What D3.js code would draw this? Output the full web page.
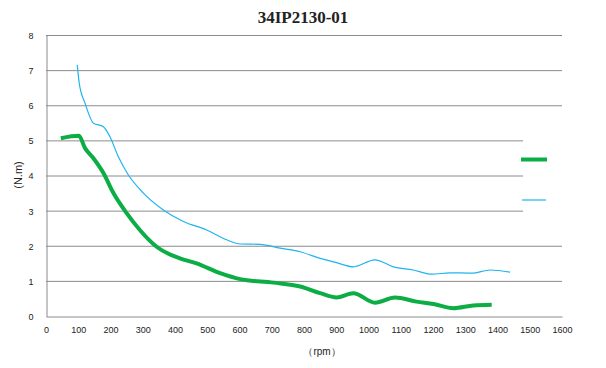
<!DOCTYPE html>
<html lang="en">
<head>
<meta charset="utf-8">
<title>34IP2130-01</title>
<style>
  body { margin: 0; background: #fff; }
  text { font-family: "Liberation Sans", Arial, sans-serif; fill: #222; }
  .title { font-family: "Liberation Serif", "DejaVu Serif", serif; font-size: 17px; font-weight: bold; }
  .tick text { font-size: 9px; }
  .grid line { stroke: #8c8c8c; }
</style>
</head>
<body>
<script src="https://cdn.jsdelivr.net/npm/d3@7"></script>
<script>
// torque curves (rpm, N.m)
var greenRpm = [46, 102, 121, 147, 178, 209, 250, 291, 343, 415, 467, 540, 602, 705, 788, 850, 901, 953, 1020, 1082, 1149, 1202, 1263, 1325, 1382];
var greenTorque = [5.06, 5.13, 4.78, 4.49, 4.07, 3.5, 2.93, 2.45, 1.97, 1.64, 1.5, 1.22, 1.05, 0.95, 0.84, 0.65, 0.53, 0.65, 0.38, 0.53, 0.41, 0.34, 0.22, 0.3, 0.32];
var blueRpm = [97, 103, 121, 147, 178, 198, 224, 255, 302, 364, 426, 498, 560, 602, 664, 726, 788, 850, 901, 953, 1020, 1077, 1139, 1196, 1253, 1320, 1377, 1439];
var blueTorque = [7.15, 6.63, 6.06, 5.49, 5.39, 5.11, 4.54, 4.02, 3.5, 3.02, 2.69, 2.45, 2.17, 2.05, 2.04, 1.93, 1.83, 1.64, 1.52, 1.4, 1.6, 1.4, 1.31, 1.19, 1.23, 1.22, 1.31, 1.25];
var xTicks = d3.range(0, 1601, 100);
var yTicks = d3.range(0, 9, 1);

var w = 606, h = 368;
var padL = 46, padR = 562, padT = 35, padB = 316;

var svg = d3.select("body").append("svg")
  .attr("width", w)
  .attr("height", h);

var x = d3.scaleLinear().domain([0, 1600]).range([padL, padR]);
var y = d3.scaleLinear().domain([0, 8]).range([padB, padT]);

// horizontal grid
svg.append("g")
  .attr("class", "grid")
  .selectAll("line")
  .data(yTicks.filter(function(d) { return d > 0; }))
  .enter().append("line")
  .attr("x1", padL)
  .attr("x2", padR)
  .attr("y1", function(d) { return y(d) + 0.5; })
  .attr("y2", function(d) { return y(d) + 0.5; });

// axes
var yAxis = svg.append("g")
  .attr("transform", "translate(" + (padL + 0.5) + ",0.5)")
  .call(d3.axisLeft(y).tickValues(yTicks).tickSize(0).tickPadding(13));
yAxis.select(".domain").attr("stroke", "#8c8c8c");

var xAxis = svg.append("g")
  .attr("transform", "translate(0," + (padB + 0.5) + ")")
  .call(d3.axisBottom(x).tickValues(xTicks).tickFormat(d3.format("d")).tickSize(0).tickPadding(10));
xAxis.select(".domain").attr("stroke", "#8c8c8c");

// curves
var line = d3.line().curve(d3.curveMonotoneX);

svg.append("path")
  .datum(blueRpm.map(function(r, i) { return [x(r), y(blueTorque[i])]; }))
  .attr("d", line)
  .attr("fill", "none")
  .attr("stroke", "#1fb4ee")
  .attr("stroke-width", 1.2);

svg.append("path")
  .datum(greenRpm.map(function(r, i) { return [x(r), y(greenTorque[i])]; }))
  .attr("d", line)
  .attr("fill", "none")
  .attr("stroke", "#0cad45")
  .attr("stroke-width", 4)
  .attr("stroke-linejoin", "round");

// legend (labels are blank in the original)
svg.append("rect")
  .attr("x", 523).attr("y", 118)
  .attr("width", 83).attr("height", 110)
  .attr("fill", "#fff");

svg.append("line")
  .attr("x1", 521).attr("x2", 547)
  .attr("y1", 159.5).attr("y2", 159.5)
  .attr("stroke", "#0cad45").attr("stroke-width", 4);

svg.append("line")
  .attr("x1", 522).attr("x2", 546)
  .attr("y1", 200).attr("y2", 200)
  .attr("stroke", "#1fb4ee").attr("stroke-width", 1.2);

// titles
svg.append("text")
  .attr("class", "title")
  .attr("x", 303).attr("y", 23)
  .attr("text-anchor", "middle")
  .text("34IP2130-01");

svg.append("text")
  .attr("transform", "translate(22,175) rotate(-90)")
  .attr("text-anchor", "middle")
  .style("font-size", "11px")
  .text("(N.m)");

svg.append("text")
  .attr("x", 322).attr("y", 355)
  .attr("text-anchor", "middle")
  .style("font-size", "10px")
  .text("（rpm）");
</script>
</body>
</html>
